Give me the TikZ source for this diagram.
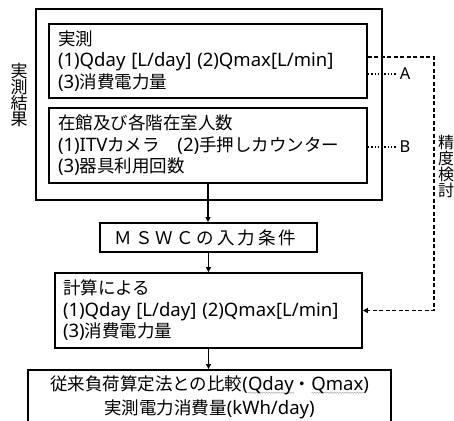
\documentclass[tikz,border=0pt]{standalone}
\usepackage{fontspec}
\setmainfont{Noto Sans CJK JP}
\newfontfamily\latfont{Noto Sans}[Scale=1.06]
\newcommand\lt[1]{{\latfont #1}}
\usetikzlibrary{arrows.meta,decorations.pathmorphing}
\newsavebox\ulbox
\newlength\ullen
\newcommand\wavyul[1]{\sbox\ulbox{#1}\setlength\ullen{\wd\ulbox}\rlap{\raisebox{-3.5pt}{\tikz\draw[gray!60,line width=0.6pt,decorate,decoration={snake,amplitude=0.6pt,segment length=2.5pt}] (0pt,0pt) -- (\ullen,0pt);}}\usebox\ulbox}
\begin{document}
\begin{tikzpicture}[x=1pt,y=-1pt,
  box/.style={draw,line width=1.8pt,rectangle,inner sep=0pt},
  txt/.style={font=\fontsize{17.5pt}{21.5pt}\selectfont},
  arr/.style={line width=1.3pt,-{Triangle[length=5pt,width=5pt]}},
  dsh/.style={line width=1.8pt,dash pattern=on 4pt off 2.5pt},
  dotl/.style={line width=1.3pt,dotted}]
\useasboundingbox (0,0) rectangle (454,420);
\clip (0,0) rectangle (454,420);
\node[box,minimum width=346pt,minimum height=191pt] (out) at (209,104.5) {};
\node[box,minimum width=318pt,minimum height=74pt,text width=300pt,align=left,txt] (A) at (208,61) {実測\\\lt{(1)Qday [L/day] (2)Qmax[L/min]}\\\lt{(3)}消費電力量};
\node[box,minimum width=318pt,minimum height=75pt,text width=300pt,align=left,txt] (B) at (208,145.5) {在館及び各階在室人数\\\lt{(1)ITV}カメラ　\lt{(2)}手押しカウンター\\\lt{(3)}器具利用回数};
\node[box,minimum width=217pt,minimum height=29pt,txt] (M) at (208.5,237.5) {Ｍ\kern3ptＳ\kern3ptＷ\kern3ptＣ\kern3ptの\kern3pt入\kern3pt力\kern3pt条\kern3pt件\kern6pt};
\node[box,minimum width=307pt,minimum height=75pt,text width=291pt,align=left,txt] (C) at (208.5,310.5) {計算による\\\lt{(1)Qday [L/day] (2)Qmax[L/min]}\\\lt{(3)}消費電力量};
\node[box,minimum width=363pt,minimum height=54pt,align=center,font=\fontsize{17.5pt}{24pt}\selectfont] (F) at (209.5,397) {従来負荷算定法との比較\lt{(\wavyul{Qday}}・\lt{\wavyul{Qmax})}\\実測電力消費量\lt{(kWh/day)}};
\node[align=center,inner sep=0pt,font=\fontsize{17pt}{15.8pt}\selectfont] (vl) at (19,95) {実\\測\\結\\果};
\node[align=center,inner sep=0pt,font=\fontsize{16pt}{16pt}\selectfont] (vr) at (446,166) {精\\度\\検\\討};
\node[font=\latfont\fontsize{15.5pt}{15.5pt}\selectfont,inner sep=0pt] (la) at (405,74) {A};
\node[font=\latfont\fontsize{15.5pt}{15.5pt}\selectfont,inner sep=0pt] (lb) at (405,147) {B};
\draw[arr] (B.south) -- (B.south |- M.north);
\draw[arr] (M.south) -- (M.south |- C.north);
\draw[arr] (C.south) -- (C.south |- F.north);
\coordinate (dr) at (434,57);
\draw[dsh,-{Triangle[length=5pt,width=5pt]}] ([yshift=4pt]A.east) -- (dr) |- (C.east);
\draw[dotl] (A.east |- la) -- ([xshift=-3pt]la.west);
\draw[dotl] (B.east |- lb) -- ([xshift=-3pt]lb.west);
\end{tikzpicture}
\end{document}
